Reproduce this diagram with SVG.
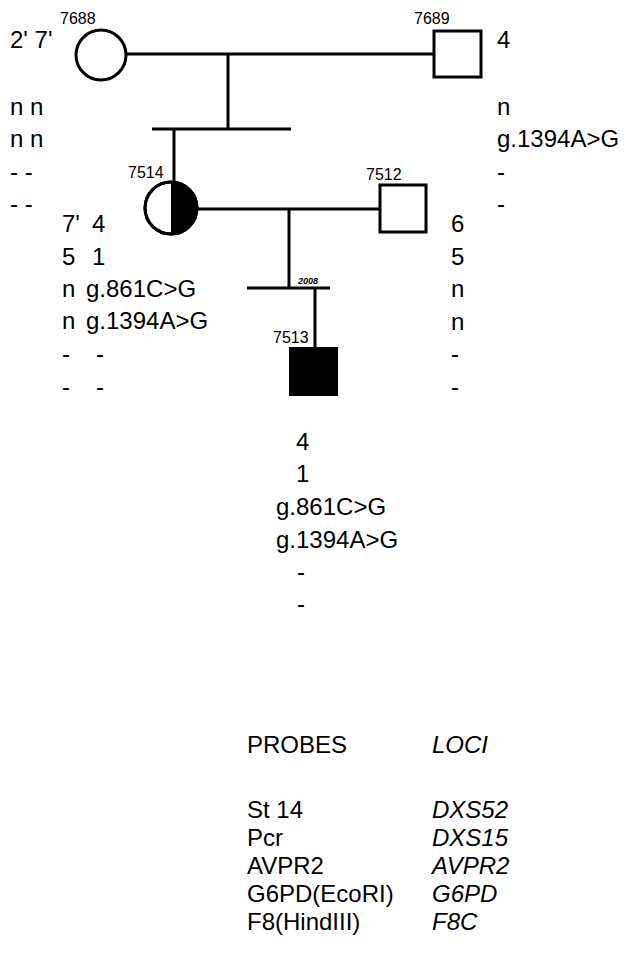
<svg xmlns="http://www.w3.org/2000/svg" width="625" height="971" viewBox="0 0 625 971">
<style>
.ln{stroke:#000;stroke-width:3;fill:none}
.sym{stroke:#000;stroke-width:3;fill:#fff}
.t{font-family:"Liberation Sans",Arial,sans-serif;font-size:24px;fill:#000}
.id{font-family:"Liberation Sans",Arial,sans-serif;font-size:16px;fill:#000}
.yr{font-family:"Liberation Sans",Arial,sans-serif;font-size:9px;font-style:italic;font-weight:bold;fill:#000}
.it{font-style:italic}
</style>
<rect width="625" height="971" fill="#fff"/>
<g id="connectors">
<line class="ln" x1="126" y1="54" x2="434" y2="54"/>
<line class="ln" x1="228" y1="54" x2="228" y2="129"/>
<line class="ln" x1="152" y1="129" x2="291" y2="129"/>
<line class="ln" x1="174" y1="129" x2="174" y2="182"/>
<line class="ln" x1="197" y1="209" x2="380" y2="209"/>
<line class="ln" x1="289" y1="209" x2="289" y2="288"/>
<line class="ln" x1="247" y1="288" x2="330" y2="288"/>
<line class="ln" x1="315" y1="288" x2="315" y2="348"/>
<text class="yr" x="298" y="284">2008</text>
</g>
<g id="n7688">
<circle class="sym" cx="101" cy="55" r="25"/>
<text class="id" x="60" y="24">7688</text>
<text class="t" x="10" y="48">2' 7'</text>
<text class="t" x="10" y="115">n n</text>
<text class="t" x="10" y="147">n n</text>
<text class="t" x="10" y="180">-  -</text>
<text class="t" x="10" y="212">-  -</text>
</g>
<g id="n7689">
<rect class="sym" x="434" y="31" width="47" height="46"/>
<text class="id" x="414" y="24">7689</text>
<text class="t" x="497" y="48">4</text>
<text class="t" x="497" y="115">n</text>
<text class="t" x="497" y="147">g.1394A&gt;G</text>
<text class="t" x="497" y="180">-</text>
<text class="t" x="497" y="212">-</text>
</g>
<g id="n7514">
<circle class="sym" cx="171" cy="208" r="26"/>
<path d="M171,182 A26,26 0 0 1 171,234 Z" fill="#000"/>
<circle cx="171" cy="208" r="26" fill="none" stroke="#000" stroke-width="3"/>
<text class="id" x="128" y="178">7514</text>
<text class="t" x="62" y="232">7'</text><text class="t" x="92" y="232">4</text>
<text class="t" x="62" y="265">5</text><text class="t" x="92" y="265">1</text>
<text class="t" x="62" y="297">n</text><text class="t" x="86" y="297">g.861C&gt;G</text>
<text class="t" x="62" y="329">n</text><text class="t" x="86" y="329">g.1394A&gt;G</text>
<text class="t" x="62" y="362">-</text><text class="t" x="96" y="362">-</text>
<text class="t" x="62" y="395">-</text><text class="t" x="96" y="395">-</text>
</g>
<g id="n7512">
<rect class="sym" x="380" y="185" width="46" height="47"/>
<text class="id" x="366" y="180">7512</text>
<text class="t" x="451" y="232">6</text>
<text class="t" x="451" y="265">5</text>
<text class="t" x="451" y="297">n</text>
<text class="t" x="451" y="330">n</text>
<text class="t" x="451" y="362">-</text>
<text class="t" x="451" y="395">-</text>
</g>
<g id="n7513">
<rect x="290" y="348" width="47" height="47" fill="#000" stroke="#000" stroke-width="2"/>
<text class="id" x="273" y="343">7513</text>
<text class="t" x="296" y="450">4</text>
<text class="t" x="296" y="482">1</text>
<text class="t" x="276" y="515">g.861C&gt;G</text>
<text class="t" x="276" y="548">g.1394A&gt;G</text>
<text class="t" x="297" y="580">-</text>
<text class="t" x="297" y="612">-</text>
</g>
<g id="legend">
<text class="t" x="247" y="753">PROBES</text>
<text class="t it" x="432" y="753">LOCI</text>
<text class="t" x="247" y="818">St 14</text>
<text class="t it" x="432" y="818">DXS52</text>
<text class="t" x="247" y="846">Pcr</text>
<text class="t it" x="432" y="846">DXS15</text>
<text class="t" x="247" y="874">AVPR2</text>
<text class="t it" x="432" y="874">AVPR2</text>
<text class="t" x="247" y="902">G6PD(EcoRI)</text>
<text class="t it" x="432" y="902">G6PD</text>
<text class="t" x="247" y="930">F8(HindIII)</text>
<text class="t it" x="432" y="930">F8C</text>
</g>
</svg>
